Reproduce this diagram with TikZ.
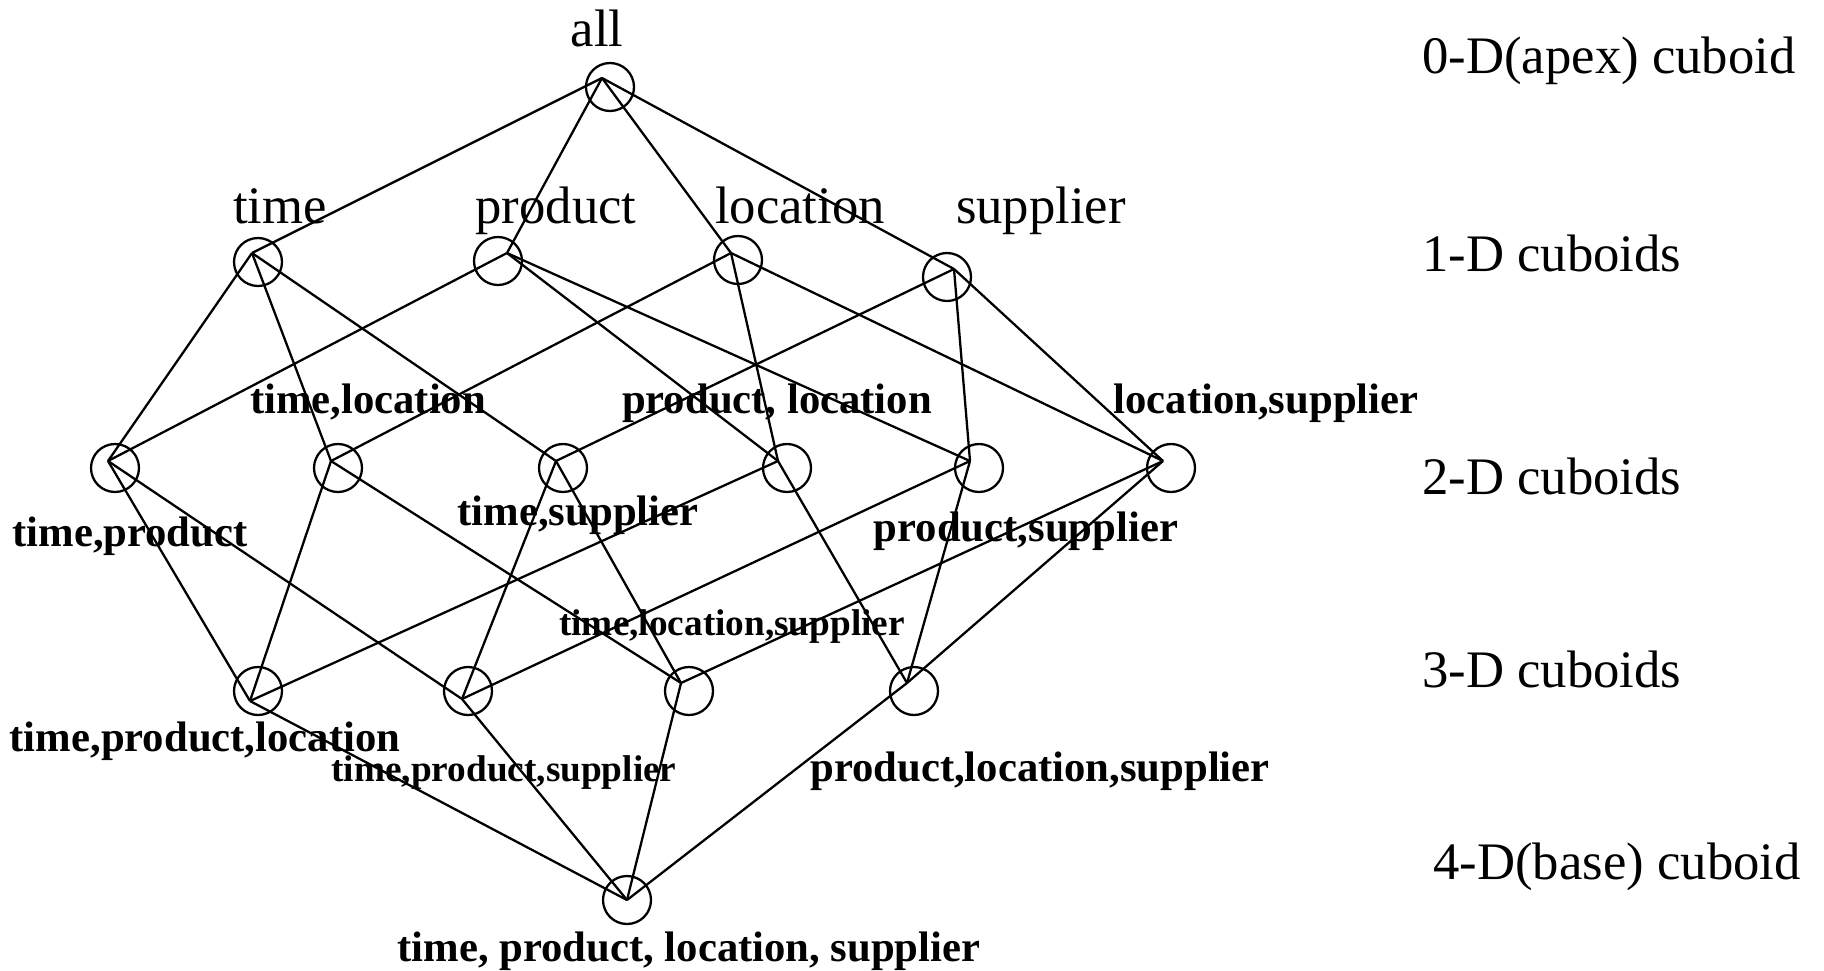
\documentclass[tikz,border=0pt]{standalone}
\usepackage{fontspec}
\setmainfont{Liberation Serif}
\usetikzlibrary{positioning}

\tikzset{
  cub/.style={draw, circle, line width=1.3pt, minimum size=0.96cm, inner sep=0pt},
  lnk/.style={line width=1.3pt},
  dimtxt/.style={font=\fontsize{30}{36}\selectfont, inner sep=0pt},
  settxt/.style={font=\fontsize{24.3}{29}\selectfont\bfseries, inner sep=0pt, anchor=base},
  smalltxt/.style={font=\fontsize{21.2}{25}\selectfont\bfseries, inner sep=0pt, anchor=base}
}

\begin{document}
\begin{tikzpicture}[x=0.02cm,y=-0.02cm]
\useasboundingbox (0,0) rectangle (1824,970);

% meeting points of the lines
\coordinate (all) at (602,78);
\coordinate (t) at (252,253); \coordinate (p) at (507,253); \coordinate (l) at (731,253); \coordinate (s) at (954,269);
\coordinate (tp) at (108,461); \coordinate (tl) at (331,461); \coordinate (ts) at (556,461);
\coordinate (pl) at (778,461); \coordinate (ps) at (970,461); \coordinate (ls) at (1163,461);
\coordinate (tpl) at (250,701); \coordinate (tps) at (462,699); \coordinate (tls) at (681,683); \coordinate (pls) at (907,683);
\coordinate (tpls) at (627,900);

% circles
\node[cub] (all-o) at (610,87) {};
\node[cub] (t-o) at (258,262) {}; \node[cub] (p-o) at (498,261) {};
\node[cub] (l-o) at (738,260) {}; \node[cub] (s-o) at (947,277) {};
\node[cub] (tp-o) at (115,468) {}; \node[cub] (tl-o) at (338,468) {}; \node[cub] (ts-o) at (563,468) {};
\node[cub] (pl-o) at (787,468) {}; \node[cub] (ps-o) at (979,468) {}; \node[cub] (ls-o) at (1171,468) {};
\node[cub] (tpl-o) at (258,691) {}; \node[cub] (tps-o) at (468,691) {};
\node[cub] (tls-o) at (689,691) {}; \node[cub] (pls-o) at (914,691) {};
\node[cub] (tpls-o) at (627,900) {};

% 0-D to 1-D
\draw[lnk] (all) -- (t); \draw[lnk] (all) -- (p); \draw[lnk] (all) -- (l); \draw[lnk] (all) -- (s);

% 1-D to 2-D
\draw[lnk] (t) -- (tp); \draw[lnk] (t) -- (tl); \draw[lnk] (t) -- (ts);
\draw[lnk] (p) -- (tp); \draw[lnk] (p) -- (pl); \draw[lnk] (p) -- (ps);
\draw[lnk] (l) -- (tl); \draw[lnk] (l) -- (pl); \draw[lnk] (l) -- (ls);
\draw[lnk] (s) -- (ts); \draw[lnk] (s) -- (ps); \draw[lnk] (s) -- (ls);

% 2-D to 3-D
\draw[lnk] (tp) -- (tpl); \draw[lnk] (tp) -- (tps);
\draw[lnk] (tl) -- (tpl); \draw[lnk] (tl) -- (tls);
\draw[lnk] (ts) -- (tps); \draw[lnk] (ts) -- (tls);
\draw[lnk] (pl) -- (tpl); \draw[lnk] (pl) -- (pls);
\draw[lnk] (ps) -- (tps); \draw[lnk] (ps) -- (pls);
\draw[lnk] (ls) -- (tls); \draw[lnk] (ls) -- (pls);

% 3-D to base
\draw[lnk] (tpl) -- (tpls); \draw[lnk] (tps) -- (tpls);
\draw[lnk] (tls) -- (tpls); \draw[lnk] (pls) -- (tpls);

% names
\node[dimtxt, anchor=base] (all-n) at (597,46) {all};
\node[dimtxt, anchor=base] (t-n) at (280,223) {time};
\node[dimtxt, anchor=base] (p-n) at (556,223) {product};
\node[dimtxt, anchor=base] (l-n) at (800,223) {location};
\node[dimtxt, anchor=base] (s-n) at (1041,223) {supplier};

\node[settxt] (tl-n) at (368,413) {time,location};
\node[settxt] (pl-n) at (777,413) {product, location};
\node[settxt] (ls-n) at (1266,413) {location,supplier};
\node[settxt] (tp-n) at (130,546) {time,product};
\node[settxt] (ts-n) at (578,525) {time,supplier};
\node[settxt] (ps-n) at (1026,541) {product,supplier};
\node[smalltxt] (tls-n) at (732,635) {time,location,supplier};
\node[settxt] (tpl-n) at (205,751) {time,product,location};
\node[smalltxt] (tps-n) at (504,781) {time,product,supplier};
\node[settxt] (pls-n) at (1040,781) {product,location,supplier};
\node[settxt] (tpls-n) at (689,961) {time, product, location, supplier};

% levels
\node[dimtxt, anchor=base west] (lev0) at (1422,73) {0-D(apex) cuboid};
\node[dimtxt, anchor=base west] (lev1) at (1422,271) {1-D cuboids};
\node[dimtxt, anchor=base west] (lev2) at (1422,494) {2-D cuboids};
\node[dimtxt, anchor=base west] (lev3) at (1422,687) {3-D cuboids};
\node[dimtxt, anchor=base west] (lev4) at (1433,879) {4-D(base) cuboid};
\end{tikzpicture}
\end{document}
